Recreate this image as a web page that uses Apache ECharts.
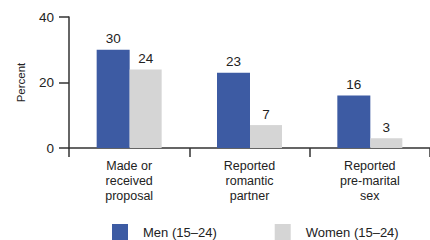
<!DOCTYPE html>
<html>
<head>
<meta charset="utf-8">
<style>
  html, body { margin: 0; padding: 0; background: #fff; }
  #chart { width: 430px; height: 240px; }
</style>
<script src="https://cdn.jsdelivr.net/npm/echarts@6/dist/echarts.min.js"></script>
</head>
<body>
<div id="chart"></div>
<script>
var categories = ['Made or\nreceived\nproposal', 'Reported\nromantic\npartner', 'Reported\npre-marital\nsex'];
var men = [30, 23, 16];
var women = [24, 7, 3];
var yTicks = [0, 20, 40];

(function() {
  var ink = '#222';
  var axisColor = '#333';
  var font = 'Liberation Sans';

  var chart = echarts.init(document.getElementById('chart'), null, { renderer: 'svg' });
  chart.setOption({
    animation: false,
    textStyle: { fontFamily: font },
    legend: {
      left: 112,
      top: 224,
      padding: 0,
      itemWidth: 16,
      itemHeight: 16,
      itemGap: 58,
      icon: 'rect',
      textStyle: { color: ink, fontSize: 13, fontFamily: font, padding: [0, 0, 0, 10] },
      data: ['Men (15–24)', 'Women (15–24)']
    },
    grid: { left: 69, width: 369, top: 17, height: 131, containLabel: false },
    xAxis: {
      type: 'category',
      data: categories,
      axisLine: { lineStyle: { color: axisColor, width: 1.5 } },
      axisTick: { show: true, length: 9, lineStyle: { color: axisColor, width: 1.5 } },
      axisLabel: { color: ink, fontSize: 12.5, lineHeight: 15, margin: 10, fontFamily: font }
    },
    yAxis: {
      type: 'value',
      min: 0,
      max: 40,
      interval: 20,
      name: 'Percent',
      nameLocation: 'middle',
      nameGap: 42,
      nameTextStyle: { color: ink, fontSize: 11.5, fontFamily: font },
      axisLine: { show: true, lineStyle: { color: axisColor, width: 1.5 } },
      axisTick: { show: true, length: 10, lineStyle: { color: axisColor, width: 1.5 } },
      splitLine: { show: false },
      axisLabel: { color: ink, fontSize: 13.5, margin: 15, fontFamily: font,
        formatter: function(v) { return yTicks.indexOf(v) >= 0 ? String(v) : ''; } }
    },
    series: [
      {
        name: 'Men (15–24)',
        type: 'bar',
        data: men,
        barWidth: 33,
        barGap: '0%',
        itemStyle: { color: '#3d5ba3' },
        label: { show: true, position: 'top', distance: 4, color: ink, fontSize: 13.5, fontFamily: font }
      },
      {
        name: 'Women (15–24)',
        type: 'bar',
        data: women,
        barWidth: 32,
        barGap: '0%',
        itemStyle: { color: '#d5d5d5' },
        label: { show: true, position: 'top', distance: 4, color: ink, fontSize: 13.5, fontFamily: font }
      }
    ]
  });
  window.addEventListener('resize', function() { chart.resize(); });
})();
</script>
</body>
</html>
